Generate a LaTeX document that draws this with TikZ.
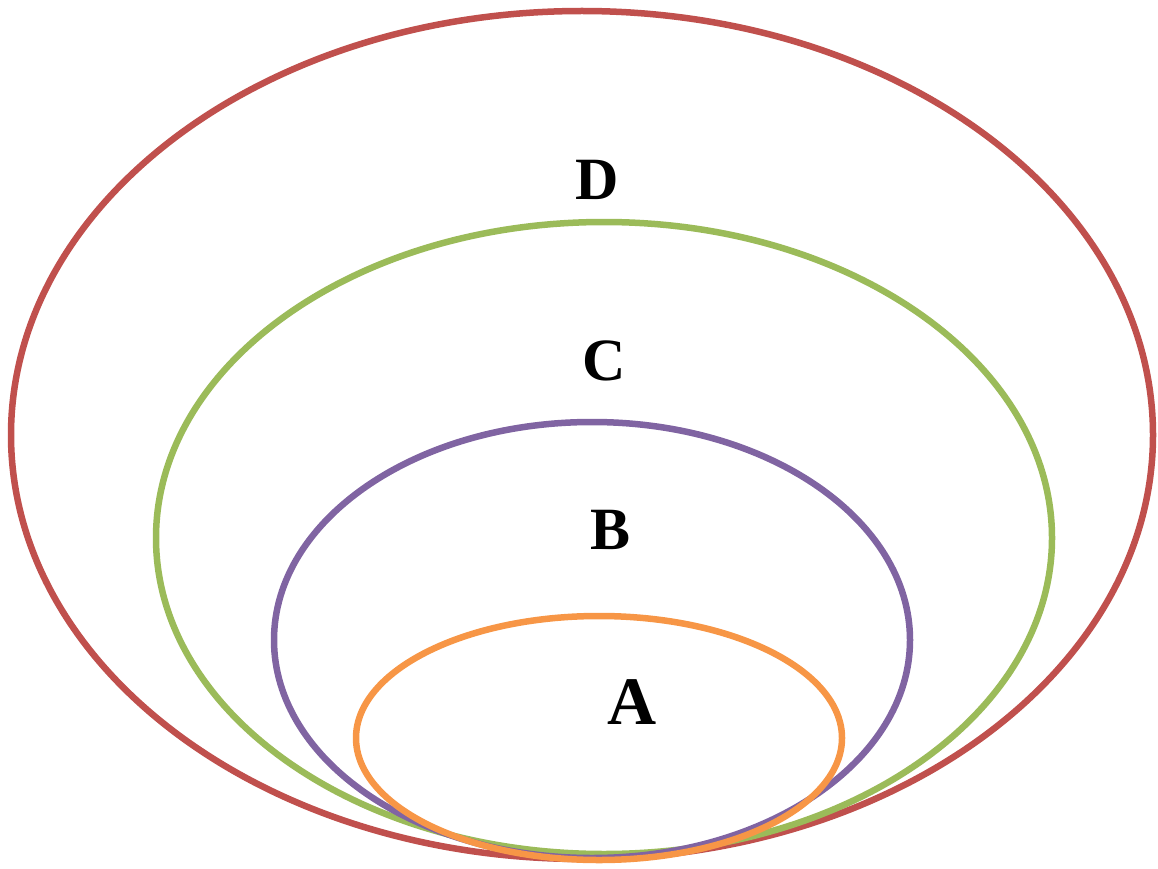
\documentclass[tikz,border=0pt]{standalone}
\usepackage{fontspec}
\setmainfont{Liberation Serif}
\usepackage{xcolor}
\usetikzlibrary{positioning}

\definecolor{ringD}{HTML}{C0504D}
\definecolor{ringC}{HTML}{9BBB59}
\definecolor{ringB}{HTML}{8064A2}
\definecolor{ringA}{HTML}{F79646}

\begin{document}
\begin{tikzpicture}[
  x=1pt, y=-1pt,
  ring/.style={line width=6.5pt},
  lbl/.style={font=\fontsize{60}{64}\selectfont\bfseries, inner sep=0pt}
]
  \useasboundingbox (0,0) rectangle (1158,869);

  % nested sets
  \draw[ring, ringD] (582,435) ellipse [x radius=571pt, y radius=424pt];
  \draw[ring, ringC] (604,538) ellipse [x radius=448pt, y radius=316pt];
  \draw[ring, ringB] (592,640) ellipse [x radius=318pt, y radius=218pt];
  \draw[ring, ringA] (599,738) ellipse [x radius=243pt, y radius=122pt];

  \node[lbl] (labD) at (597,180) {D};
  \node[lbl] (labC) at (604,361) {C};
  \node[lbl] (labB) at (610,530) {B};
  \node[lbl, font=\fontsize{68}{72}\selectfont\bfseries] (labA) at (632,702) {A};
\end{tikzpicture}
\end{document}
